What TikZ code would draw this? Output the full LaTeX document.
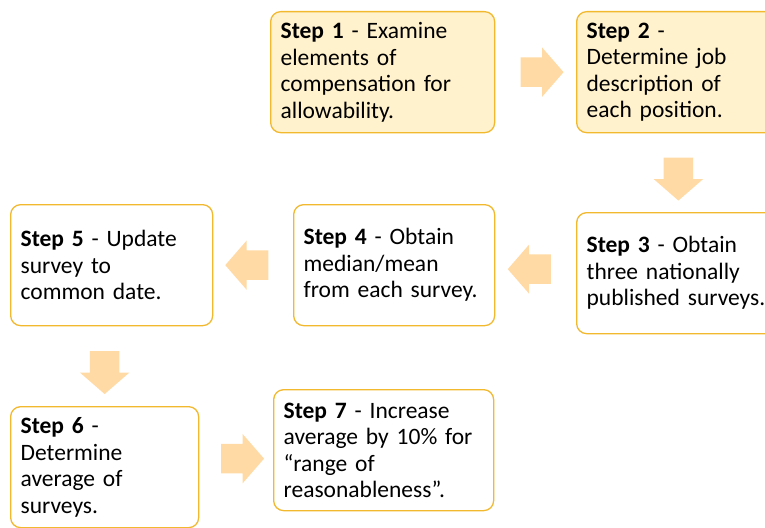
\documentclass[tikz,border=0pt]{standalone}
\usepackage{fontspec}
\setmainfont{Carlito}
\usetikzlibrary{shapes.arrows,calc}

\definecolor{boxline}{HTML}{F2B82E}
\definecolor{boxfill}{HTML}{FFF2CC}
\definecolor{arrowfill}{HTML}{FFDAA5}

\begin{document}
\begin{tikzpicture}[x=1pt,y=-1pt,
    stepbox/.style={draw=boxline, line width=1.3pt, rounded corners=10pt,
        anchor=north west, align=left, inner xsep=10pt, inner ysep=0pt,
        text width=#1, minimum height=121pt,
        font=\fontsize{23.5}{26.5}\selectfont},
    blockarrow/.style={single arrow, fill=arrowfill, draw=none,
        minimum height=43pt, minimum width=49pt, inner sep=14.5pt,
        single arrow head extend=10pt, single arrow tip angle=98,
        shape border rotate=#1}]
    \useasboundingbox (0,0) rectangle (765,527);
    \node[stepbox=204pt, fill=boxfill] (s1) at (270,11)
        {\textbf{Step 1} - Examine\\elements of\\compensation for\\allowability.};
    \node[stepbox=181pt, fill=boxfill] (s2) at (576,11)
        {\textbf{Step 2} -\\Determine job\\description of\\each position.};
    \node[stepbox=186pt, fill=white] (s3) at (576,212)
        {\textbf{Step 3} - Obtain\\three nationally\\published surveys.};
    \node[stepbox=181pt, fill=white] (s4) at (293,204)
        {\textbf{Step 4} - Obtain\\median/mean\\from each survey.};
    \node[stepbox=182pt, fill=white] (s5) at (10,204)
        {\textbf{Step 5} - Update\\survey to\\common date.};
    \node[stepbox=168pt, fill=white] (s6) at (10,406)
        {\textbf{Step 6} -\\Determine\\average of\\surveys.};
    \node[stepbox=200pt, fill=white] (s7) at (273,389)
        {\textbf{Step 7} - Increase\\average by 10\% for\\“range of\\reasonableness”.};

    \node[blockarrow=0] (a12) at ($(s1.east)!0.5!(s2.west)$) {};
    \node[blockarrow=270] (a23) at ($(s2.south)!0.5!(s3.north)$) {};
    \node[blockarrow=180] (a34) at ($(s3.west)!0.5!(s4.east)$) {};
    \node[blockarrow=180] (a45) at ($(s4.west)!0.5!(s5.east)$) {};
    \node[blockarrow=270] (a56) at ($(s6.north)!0.5!(s6.north |- s5.south)$) {};
    \node[blockarrow=0] (a67) at ($(s6.east)!0.5!(s7.west)$) {};
\end{tikzpicture}
\end{document}
